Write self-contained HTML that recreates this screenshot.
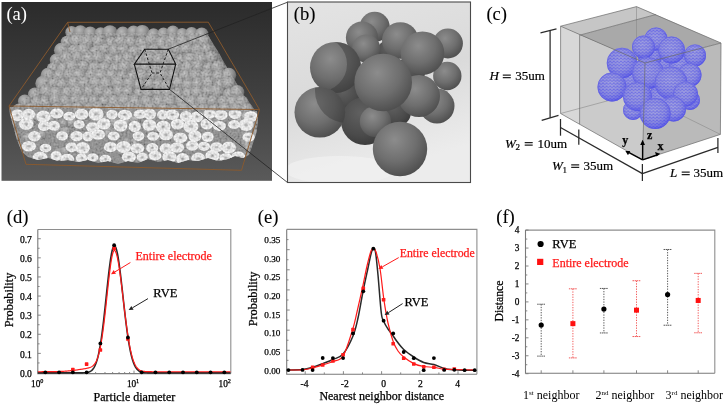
<!DOCTYPE html>
<html><head><meta charset="utf-8"><style>
html,body{margin:0;padding:0;background:#fff;width:725px;height:405px;overflow:hidden}
svg{display:block;filter:blur(0.3px)}
text{font-family:"Liberation Serif",serif;}
.t{stroke-width:0.22px;paint-order:stroke}
</style></head><body>
<svg width="725" height="405" viewBox="0 0 725 405">
<rect width="725" height="405" fill="#fff"/>
<defs><linearGradient id="ga" x1="0" y1="0" x2="0" y2="1"><stop offset="0" stop-color="#2b2b2b"/><stop offset="0.5" stop-color="#3f3f3f"/><stop offset="1" stop-color="#5a5a5a"/></linearGradient><radialGradient id="bump" cx="0.4" cy="0.34" r="0.7"><stop offset="0" stop-color="#b8b8b8"/><stop offset="0.45" stop-color="#989898"/><stop offset="0.8" stop-color="#767676"/><stop offset="1" stop-color="#525252"/></radialGradient><radialGradient id="ring" cx="0.5" cy="0.5" r="0.5"><stop offset="0" stop-color="#a0a0a0"/><stop offset="0.18" stop-color="#b8b8b8"/><stop offset="0.34" stop-color="#ededed"/><stop offset="0.9" stop-color="#fdfdfd"/><stop offset="1" stop-color="#e2e2e2"/></radialGradient><filter id="noise" x="0" y="0" width="1" height="1"><feTurbulence type="fractalNoise" baseFrequency="0.5" numOctaves="2" seed="3"/><feColorMatrix type="matrix" values="1.6 0 0 0 -0.3  1.6 0 0 0 -0.3  1.6 0 0 0 -0.3  0 0 0 0 1"/><feComposite in2="SourceGraphic" operator="in"/></filter><clipPath id="clipa"><rect x="1.5" y="2" width="270.5" height="178.8"/></clipPath><clipPath id="clipTop"><polygon points="70,33 90,33 110,33 130,33 150,33 170,33 190,33 205,33 209,37 214.6,46.1 219,53 223.7,61.7 228,69 232.8,77.2 237,84 241.9,92.8 246,98 250.9,104.4 254,109 256,112 14,108 23,101 34,91 42,80 50,67 57,55 64,40 68,32"/></clipPath><clipPath id="clipTop2"><rect x="0" y="0" width="272" height="111"/></clipPath><clipPath id="clipFront"><polygon points="9,107 257,111 258,122 256,134 252,146 249,155 243,158 235,156 228,159 218,161 208,158 198,161 188,160 178,163 168,160 158,162 148,159 138,163 128,161 118,164 108,161 98,163 88,160 78,162 68,160 58,161 48,158 38,160 28,157 22,152 17,140 13,125 10,115"/></clipPath></defs>
<rect x="1.5" y="2" width="270.5" height="178.8" fill="url(#ga)"/>
<g clip-path="url(#clipa)">
<polygon points="70,33 90,33 110,33 130,33 150,33 170,33 190,33 205,33 209,37 214.6,46.1 219,53 223.7,61.7 228,69 232.8,77.2 237,84 241.9,92.8 246,98 250.9,104.4 254,109 256,112 14,108 23,101 34,91 42,80 50,67 57,55 64,40 68,32" fill="#6e6e6e"/>
<g clip-path="url(#clipTop2)">
<circle cx="71.59" cy="32.22" r="6.27" fill="url(#bump)"/>
<circle cx="80.42" cy="32.17" r="6.96" fill="url(#bump)"/>
<circle cx="90.21" cy="33.3" r="6.91" fill="url(#bump)"/>
<circle cx="100.69" cy="33.27" r="6.13" fill="url(#bump)"/>
<circle cx="109.94" cy="32.67" r="7.49" fill="url(#bump)"/>
<circle cx="122.82" cy="33.73" r="7.13" fill="url(#bump)"/>
<circle cx="133.58" cy="32.14" r="6.71" fill="url(#bump)"/>
<circle cx="142.27" cy="32.43" r="7.55" fill="url(#bump)"/>
<circle cx="153.63" cy="34.45" r="6.21" fill="url(#bump)"/>
<circle cx="163.49" cy="33.92" r="6.33" fill="url(#bump)"/>
<circle cx="172.91" cy="32.19" r="6.67" fill="url(#bump)"/>
<circle cx="182.24" cy="34.04" r="6.11" fill="url(#bump)"/>
<circle cx="191.61" cy="33.76" r="6.77" fill="url(#bump)"/>
<circle cx="201.74" cy="34.38" r="6.82" fill="url(#bump)"/>
<circle cx="67.11" cy="42.08" r="6.44" fill="url(#bump)"/>
<circle cx="77.08" cy="41.36" r="7.58" fill="url(#bump)"/>
<circle cx="87.22" cy="41.75" r="7.76" fill="url(#bump)"/>
<circle cx="98.94" cy="41.97" r="7.36" fill="url(#bump)"/>
<circle cx="111.01" cy="42.79" r="6.07" fill="url(#bump)"/>
<circle cx="120.53" cy="41.44" r="7.03" fill="url(#bump)"/>
<circle cx="130.52" cy="42.24" r="7.25" fill="url(#bump)"/>
<circle cx="141.89" cy="43.33" r="6.82" fill="url(#bump)"/>
<circle cx="151.77" cy="40.68" r="6.85" fill="url(#bump)"/>
<circle cx="162.01" cy="43.48" r="7.26" fill="url(#bump)"/>
<circle cx="172.18" cy="41.66" r="7.48" fill="url(#bump)"/>
<circle cx="182.88" cy="41.89" r="7.2" fill="url(#bump)"/>
<circle cx="193.87" cy="40.68" r="6.3" fill="url(#bump)"/>
<circle cx="203.35" cy="41.24" r="7.38" fill="url(#bump)"/>
<circle cx="61.54" cy="50.35" r="7.57" fill="url(#bump)"/>
<circle cx="74.5" cy="51.46" r="6.99" fill="url(#bump)"/>
<circle cx="83.78" cy="50.25" r="7.56" fill="url(#bump)"/>
<circle cx="96.32" cy="51.87" r="6.65" fill="url(#bump)"/>
<circle cx="104.87" cy="49.7" r="6.27" fill="url(#bump)"/>
<circle cx="114.9" cy="50.77" r="6.42" fill="url(#bump)"/>
<circle cx="123.57" cy="50.26" r="6.47" fill="url(#bump)"/>
<circle cx="134.4" cy="51.86" r="6.66" fill="url(#bump)"/>
<circle cx="144.29" cy="50.85" r="7.24" fill="url(#bump)"/>
<circle cx="154.24" cy="51.7" r="7.22" fill="url(#bump)"/>
<circle cx="166.7" cy="51.39" r="7.4" fill="url(#bump)"/>
<circle cx="176.86" cy="49.31" r="6.71" fill="url(#bump)"/>
<circle cx="186.24" cy="49.2" r="7.14" fill="url(#bump)"/>
<circle cx="197.16" cy="50.02" r="6.38" fill="url(#bump)"/>
<circle cx="206.4" cy="49.45" r="6.09" fill="url(#bump)"/>
<circle cx="56.42" cy="60.12" r="6.65" fill="url(#bump)"/>
<circle cx="66.65" cy="58.26" r="7.11" fill="url(#bump)"/>
<circle cx="77.74" cy="57.87" r="6.63" fill="url(#bump)"/>
<circle cx="88.93" cy="58.9" r="7.53" fill="url(#bump)"/>
<circle cx="98.41" cy="57.81" r="6.87" fill="url(#bump)"/>
<circle cx="109.08" cy="59.99" r="6.62" fill="url(#bump)"/>
<circle cx="118.52" cy="60.35" r="6.29" fill="url(#bump)"/>
<circle cx="128.2" cy="59.13" r="6.95" fill="url(#bump)"/>
<circle cx="139.39" cy="60.44" r="6.05" fill="url(#bump)"/>
<circle cx="148.8" cy="58.28" r="7.55" fill="url(#bump)"/>
<circle cx="159.07" cy="59.82" r="6.66" fill="url(#bump)"/>
<circle cx="170.29" cy="58.49" r="6.96" fill="url(#bump)"/>
<circle cx="180.79" cy="60.45" r="6.4" fill="url(#bump)"/>
<circle cx="190.38" cy="59.95" r="7.53" fill="url(#bump)"/>
<circle cx="200.52" cy="59.05" r="7.33" fill="url(#bump)"/>
<circle cx="211.13" cy="57.58" r="6.64" fill="url(#bump)"/>
<circle cx="53.14" cy="68.87" r="6.47" fill="url(#bump)"/>
<circle cx="63.32" cy="68.96" r="6.81" fill="url(#bump)"/>
<circle cx="72.39" cy="66.66" r="7.72" fill="url(#bump)"/>
<circle cx="83.63" cy="66.61" r="6.41" fill="url(#bump)"/>
<circle cx="94.65" cy="68.52" r="7.12" fill="url(#bump)"/>
<circle cx="104.84" cy="68.4" r="6.86" fill="url(#bump)"/>
<circle cx="115.15" cy="68.73" r="6.15" fill="url(#bump)"/>
<circle cx="124.56" cy="67.43" r="7.41" fill="url(#bump)"/>
<circle cx="135.75" cy="67" r="6.32" fill="url(#bump)"/>
<circle cx="145.6" cy="67.19" r="7.44" fill="url(#bump)"/>
<circle cx="156.71" cy="68.17" r="6.72" fill="url(#bump)"/>
<circle cx="165.15" cy="66.45" r="6.31" fill="url(#bump)"/>
<circle cx="175.97" cy="66.44" r="7.63" fill="url(#bump)"/>
<circle cx="187.76" cy="67.97" r="7.49" fill="url(#bump)"/>
<circle cx="198.13" cy="66.39" r="6.63" fill="url(#bump)"/>
<circle cx="208.92" cy="67.95" r="6.03" fill="url(#bump)"/>
<circle cx="217.88" cy="67.3" r="6.95" fill="url(#bump)"/>
<circle cx="48.13" cy="75.26" r="7.49" fill="url(#bump)"/>
<circle cx="59.42" cy="76.26" r="6.53" fill="url(#bump)"/>
<circle cx="69.56" cy="74.89" r="6.47" fill="url(#bump)"/>
<circle cx="79.13" cy="75.87" r="7.64" fill="url(#bump)"/>
<circle cx="91.69" cy="75.76" r="7.05" fill="url(#bump)"/>
<circle cx="101.46" cy="76.1" r="7.65" fill="url(#bump)"/>
<circle cx="111.97" cy="75.82" r="6.94" fill="url(#bump)"/>
<circle cx="122.36" cy="76.9" r="6.33" fill="url(#bump)"/>
<circle cx="132.79" cy="76.68" r="6.31" fill="url(#bump)"/>
<circle cx="141.96" cy="76.06" r="7" fill="url(#bump)"/>
<circle cx="153.38" cy="74.82" r="7" fill="url(#bump)"/>
<circle cx="162.81" cy="75.33" r="7.01" fill="url(#bump)"/>
<circle cx="173.84" cy="76.19" r="7.39" fill="url(#bump)"/>
<circle cx="185.74" cy="75.83" r="7.37" fill="url(#bump)"/>
<circle cx="195.97" cy="76.04" r="7.1" fill="url(#bump)"/>
<circle cx="206.52" cy="76.1" r="7.25" fill="url(#bump)"/>
<circle cx="218.37" cy="76.6" r="6.86" fill="url(#bump)"/>
<circle cx="228.66" cy="75.28" r="7.58" fill="url(#bump)"/>
<circle cx="43.03" cy="83.41" r="7.7" fill="url(#bump)"/>
<circle cx="53.78" cy="83.22" r="6.22" fill="url(#bump)"/>
<circle cx="62.37" cy="85.01" r="6.43" fill="url(#bump)"/>
<circle cx="73.67" cy="83.46" r="7.41" fill="url(#bump)"/>
<circle cx="84.31" cy="83.43" r="7.29" fill="url(#bump)"/>
<circle cx="95.86" cy="83.66" r="7.59" fill="url(#bump)"/>
<circle cx="106.1" cy="84.46" r="7.71" fill="url(#bump)"/>
<circle cx="118.54" cy="83.48" r="7.78" fill="url(#bump)"/>
<circle cx="129.58" cy="84.02" r="6.78" fill="url(#bump)"/>
<circle cx="139.35" cy="85.17" r="6.35" fill="url(#bump)"/>
<circle cx="149.35" cy="84.32" r="6.04" fill="url(#bump)"/>
<circle cx="157.96" cy="84.87" r="6.03" fill="url(#bump)"/>
<circle cx="166.47" cy="85.96" r="6.92" fill="url(#bump)"/>
<circle cx="178.67" cy="83.31" r="7.42" fill="url(#bump)"/>
<circle cx="187.94" cy="85.34" r="6.48" fill="url(#bump)"/>
<circle cx="197.83" cy="84.27" r="6.49" fill="url(#bump)"/>
<circle cx="208.94" cy="83.78" r="7.64" fill="url(#bump)"/>
<circle cx="220.6" cy="84.71" r="6.27" fill="url(#bump)"/>
<circle cx="228.35" cy="83.17" r="7.26" fill="url(#bump)"/>
<circle cx="34.82" cy="94.32" r="6.77" fill="url(#bump)"/>
<circle cx="46.43" cy="91.75" r="7.14" fill="url(#bump)"/>
<circle cx="55.67" cy="94.09" r="7.54" fill="url(#bump)"/>
<circle cx="67.53" cy="93.16" r="6.82" fill="url(#bump)"/>
<circle cx="77.61" cy="91.89" r="7.67" fill="url(#bump)"/>
<circle cx="89.05" cy="91.83" r="6.95" fill="url(#bump)"/>
<circle cx="99.1" cy="92.11" r="6.29" fill="url(#bump)"/>
<circle cx="109.05" cy="93.78" r="6.56" fill="url(#bump)"/>
<circle cx="119.28" cy="92.03" r="6.52" fill="url(#bump)"/>
<circle cx="128.1" cy="92.25" r="6.62" fill="url(#bump)"/>
<circle cx="139.46" cy="93.15" r="6.03" fill="url(#bump)"/>
<circle cx="147.99" cy="94.3" r="6.34" fill="url(#bump)"/>
<circle cx="158.19" cy="92.8" r="6.19" fill="url(#bump)"/>
<circle cx="167.51" cy="92.68" r="6.89" fill="url(#bump)"/>
<circle cx="177.55" cy="94.45" r="6.91" fill="url(#bump)"/>
<circle cx="188.21" cy="93.62" r="6.62" fill="url(#bump)"/>
<circle cx="197.28" cy="92.54" r="7.14" fill="url(#bump)"/>
<circle cx="207.44" cy="91.71" r="6.1" fill="url(#bump)"/>
<circle cx="216.84" cy="91.99" r="7.33" fill="url(#bump)"/>
<circle cx="229.01" cy="94.11" r="6.15" fill="url(#bump)"/>
<circle cx="237.12" cy="92.23" r="7.21" fill="url(#bump)"/>
<circle cx="24.83" cy="101.34" r="6.83" fill="url(#bump)"/>
<circle cx="36.68" cy="102.92" r="6.47" fill="url(#bump)"/>
<circle cx="44.95" cy="102.9" r="6.98" fill="url(#bump)"/>
<circle cx="55.66" cy="100" r="6.56" fill="url(#bump)"/>
<circle cx="65.73" cy="101.51" r="6.69" fill="url(#bump)"/>
<circle cx="75.82" cy="100.01" r="6.36" fill="url(#bump)"/>
<circle cx="84.53" cy="101.2" r="6.48" fill="url(#bump)"/>
<circle cx="94.11" cy="100.91" r="6.08" fill="url(#bump)"/>
<circle cx="104.35" cy="101.59" r="6.42" fill="url(#bump)"/>
<circle cx="114.12" cy="102.15" r="7.35" fill="url(#bump)"/>
<circle cx="124.61" cy="100.98" r="7.58" fill="url(#bump)"/>
<circle cx="135.51" cy="102.17" r="7.77" fill="url(#bump)"/>
<circle cx="146.95" cy="102.51" r="7.16" fill="url(#bump)"/>
<circle cx="158.86" cy="102.2" r="7.61" fill="url(#bump)"/>
<circle cx="169.29" cy="101.57" r="7.46" fill="url(#bump)"/>
<circle cx="181.87" cy="102.41" r="6.91" fill="url(#bump)"/>
<circle cx="191.73" cy="102.68" r="7.49" fill="url(#bump)"/>
<circle cx="203.18" cy="100.69" r="7.23" fill="url(#bump)"/>
<circle cx="212.91" cy="101.08" r="6.06" fill="url(#bump)"/>
<circle cx="223.4" cy="101.68" r="6.19" fill="url(#bump)"/>
<circle cx="232.26" cy="102.04" r="7.13" fill="url(#bump)"/>
<circle cx="241.71" cy="102.39" r="6.88" fill="url(#bump)"/>
<circle cx="19.07" cy="110.48" r="6.91" fill="url(#bump)"/>
<circle cx="29.83" cy="109.26" r="6.12" fill="url(#bump)"/>
<circle cx="38.06" cy="110.69" r="6.13" fill="url(#bump)"/>
<circle cx="48.21" cy="111.43" r="6.37" fill="url(#bump)"/>
<circle cx="57.05" cy="109.94" r="6.89" fill="url(#bump)"/>
<circle cx="68.16" cy="110.35" r="7.23" fill="url(#bump)"/>
<circle cx="77.62" cy="108.94" r="7.16" fill="url(#bump)"/>
<circle cx="89.69" cy="109.41" r="6.46" fill="url(#bump)"/>
<circle cx="97.91" cy="108.68" r="7.02" fill="url(#bump)"/>
<circle cx="109.77" cy="110.58" r="6.48" fill="url(#bump)"/>
<circle cx="118.73" cy="110.05" r="7.22" fill="url(#bump)"/>
<circle cx="129.9" cy="108.86" r="6.84" fill="url(#bump)"/>
<circle cx="139.62" cy="111.43" r="7.61" fill="url(#bump)"/>
<circle cx="150.67" cy="109.88" r="7.69" fill="url(#bump)"/>
<circle cx="164.1" cy="109.85" r="7.48" fill="url(#bump)"/>
<circle cx="173.8" cy="111.34" r="6.48" fill="url(#bump)"/>
<circle cx="184.27" cy="108.93" r="6.38" fill="url(#bump)"/>
<circle cx="194.58" cy="108.9" r="6.94" fill="url(#bump)"/>
<circle cx="204.11" cy="111.16" r="7.48" fill="url(#bump)"/>
<circle cx="214.77" cy="111.19" r="7.27" fill="url(#bump)"/>
<circle cx="225.25" cy="108.51" r="6.88" fill="url(#bump)"/>
<circle cx="236.42" cy="109.41" r="6.89" fill="url(#bump)"/>
<circle cx="246.53" cy="109.45" r="6.25" fill="url(#bump)"/>
</g>
<polygon points="9,107 257,111 258,122 256,134 252,146 249,155 243,158 235,156 228,159 218,161 208,158 198,161 188,160 178,163 168,160 158,162 148,159 138,163 128,161 118,164 108,161 98,163 88,160 78,162 68,160 58,161 48,158 38,160 28,157 22,152 17,140 13,125 10,115" fill="#858585"/>
<g clip-path="url(#clipFront)">
<circle cx="218.38" cy="108.1" r="5.5" fill="url(#bump)"/>
<circle cx="218.1" cy="114.84" r="5.85" fill="url(#bump)"/>
<circle cx="186.83" cy="159.39" r="4.58" fill="url(#bump)"/>
<circle cx="102.31" cy="130.4" r="6" fill="url(#bump)"/>
<circle cx="156.12" cy="128.56" r="4.86" fill="url(#bump)"/>
<circle cx="78.24" cy="110.75" r="4.2" fill="url(#bump)"/>
<circle cx="217" cy="124.28" r="5.87" fill="url(#bump)"/>
<circle cx="71.83" cy="123.15" r="5.02" fill="url(#bump)"/>
<circle cx="57.08" cy="129.28" r="5.91" fill="url(#bump)"/>
<circle cx="229.3" cy="154.28" r="5.26" fill="url(#bump)"/>
<circle cx="236.53" cy="161.62" r="5.1" fill="url(#bump)"/>
<circle cx="188.45" cy="110.82" r="5.46" fill="url(#bump)"/>
<circle cx="121.81" cy="150.9" r="5.29" fill="url(#bump)"/>
<circle cx="80.98" cy="110.79" r="5.85" fill="url(#bump)"/>
<circle cx="41.57" cy="134.91" r="4.69" fill="url(#bump)"/>
<circle cx="83.85" cy="150.12" r="5.95" fill="url(#bump)"/>
<circle cx="74.52" cy="145.39" r="4.6" fill="url(#bump)"/>
<circle cx="148.22" cy="130.48" r="4.33" fill="url(#bump)"/>
<circle cx="50.09" cy="119.85" r="5.81" fill="url(#bump)"/>
<circle cx="133.27" cy="120.54" r="5.81" fill="url(#bump)"/>
<circle cx="257.13" cy="133.65" r="4.28" fill="url(#bump)"/>
<circle cx="57.72" cy="113.17" r="4.68" fill="url(#bump)"/>
<circle cx="32.59" cy="121.63" r="4.52" fill="url(#bump)"/>
<circle cx="151.27" cy="158.57" r="5.5" fill="url(#bump)"/>
<circle cx="112.37" cy="131.59" r="5.05" fill="url(#bump)"/>
<circle cx="103.46" cy="127.28" r="4.12" fill="url(#bump)"/>
<circle cx="78.82" cy="163.16" r="4.25" fill="url(#bump)"/>
<circle cx="134.84" cy="143.89" r="5.73" fill="url(#bump)"/>
<circle cx="63.56" cy="123.45" r="4.5" fill="url(#bump)"/>
<circle cx="109.14" cy="133.41" r="5.91" fill="url(#bump)"/>
<circle cx="220.47" cy="157.75" r="4.04" fill="url(#bump)"/>
<circle cx="18" cy="148.44" r="5.79" fill="url(#bump)"/>
<circle cx="127.37" cy="141.47" r="4" fill="url(#bump)"/>
<circle cx="107.1" cy="160.83" r="5.65" fill="url(#bump)"/>
<circle cx="222.15" cy="163.42" r="4.5" fill="url(#bump)"/>
<circle cx="37.04" cy="116.8" r="5.04" fill="url(#bump)"/>
<circle cx="179.15" cy="161.66" r="5.44" fill="url(#bump)"/>
<circle cx="170.54" cy="151.59" r="4.91" fill="url(#bump)"/>
<circle cx="146.77" cy="110.25" r="5.56" fill="url(#bump)"/>
<circle cx="67.68" cy="160.44" r="5.29" fill="url(#bump)"/>
<circle cx="85.34" cy="115.29" r="4.5" fill="url(#bump)"/>
<circle cx="167.8" cy="147.82" r="4.22" fill="url(#bump)"/>
<circle cx="27.45" cy="137.89" r="5.17" fill="url(#bump)"/>
<circle cx="106.24" cy="120.74" r="5.2" fill="url(#bump)"/>
<circle cx="12.59" cy="125.19" r="4.92" fill="url(#bump)"/>
<circle cx="247.82" cy="144.74" r="5.77" fill="url(#bump)"/>
<circle cx="127.88" cy="121.38" r="4.49" fill="url(#bump)"/>
<circle cx="248.23" cy="148.17" r="4.61" fill="url(#bump)"/>
<circle cx="15.4" cy="136.4" r="5.35" fill="url(#bump)"/>
<circle cx="114.16" cy="122.66" r="5.33" fill="url(#bump)"/>
<circle cx="239.44" cy="120.93" r="4.07" fill="url(#bump)"/>
<circle cx="93.84" cy="131.97" r="5.37" fill="url(#bump)"/>
<circle cx="59.12" cy="153.43" r="5.48" fill="url(#bump)"/>
<circle cx="135.21" cy="119.7" r="5.94" fill="url(#bump)"/>
<circle cx="87.31" cy="154.74" r="4.46" fill="url(#bump)"/>
<circle cx="64.92" cy="151.35" r="4.59" fill="url(#bump)"/>
<circle cx="246.08" cy="136.26" r="4.37" fill="url(#bump)"/>
<circle cx="65.38" cy="131.77" r="5.33" fill="url(#bump)"/>
<circle cx="245.29" cy="116.34" r="4.79" fill="url(#bump)"/>
<circle cx="62.81" cy="163.52" r="4.28" fill="url(#bump)"/>
<ellipse cx="17.38" cy="115.31" rx="6.72" ry="5.96" fill="url(#ring)"/>
<ellipse cx="28.7" cy="114.29" rx="6.62" ry="5.52" fill="url(#ring)"/>
<ellipse cx="43.51" cy="116.67" rx="7.22" ry="6.1" fill="url(#ring)"/>
<ellipse cx="56.78" cy="113.41" rx="6.83" ry="5.11" fill="url(#ring)"/>
<ellipse cx="69.29" cy="116.23" rx="6.08" ry="4.41" fill="url(#ring)"/>
<ellipse cx="81.59" cy="114.2" rx="6.88" ry="5.57" fill="url(#ring)"/>
<ellipse cx="96.04" cy="114.03" rx="7.59" ry="6.61" fill="url(#ring)"/>
<ellipse cx="112.02" cy="114.59" rx="5.74" ry="4.92" fill="url(#ring)"/>
<ellipse cx="124.94" cy="114.89" rx="7.29" ry="5.25" fill="url(#ring)"/>
<ellipse cx="140.12" cy="114.17" rx="6.39" ry="4.69" fill="url(#ring)"/>
<ellipse cx="149.87" cy="114.09" rx="6.27" ry="5.6" fill="url(#ring)"/>
<ellipse cx="162.73" cy="114.81" rx="5.72" ry="4.94" fill="url(#ring)"/>
<ellipse cx="172.17" cy="114.71" rx="7.06" ry="5.25" fill="url(#ring)"/>
<ellipse cx="185.98" cy="116.39" rx="6.14" ry="5.49" fill="url(#ring)"/>
<ellipse cx="196.95" cy="116.76" rx="6.39" ry="5.58" fill="url(#ring)"/>
<ellipse cx="209.57" cy="113.46" rx="6.12" ry="5.25" fill="url(#ring)"/>
<ellipse cx="221.03" cy="114.83" rx="6.77" ry="5.17" fill="url(#ring)"/>
<ellipse cx="235.04" cy="113.75" rx="6.57" ry="5.41" fill="url(#ring)"/>
<ellipse cx="250.8" cy="116.59" rx="7.24" ry="5.53" fill="url(#ring)"/>
<ellipse cx="26.26" cy="123.94" rx="7.36" ry="6.1" fill="url(#ring)"/>
<ellipse cx="44.08" cy="125.95" rx="6.08" ry="5.15" fill="url(#ring)"/>
<ellipse cx="53.97" cy="125.81" rx="5.95" ry="5.06" fill="url(#ring)"/>
<ellipse cx="79.11" cy="124.43" rx="5.63" ry="4.33" fill="url(#ring)"/>
<ellipse cx="92.66" cy="127.33" rx="6.74" ry="5.02" fill="url(#ring)"/>
<ellipse cx="103.88" cy="123.86" rx="6.98" ry="5.76" fill="url(#ring)"/>
<ellipse cx="120.53" cy="125.54" rx="7" ry="6.25" fill="url(#ring)"/>
<ellipse cx="134.68" cy="126.45" rx="6.24" ry="5.61" fill="url(#ring)"/>
<ellipse cx="149.27" cy="125.07" rx="7.07" ry="5.99" fill="url(#ring)"/>
<ellipse cx="163.34" cy="126.91" rx="7.4" ry="6.49" fill="url(#ring)"/>
<ellipse cx="177.55" cy="124.09" rx="6.85" ry="5.4" fill="url(#ring)"/>
<ellipse cx="190.82" cy="126.45" rx="7.59" ry="6.66" fill="url(#ring)"/>
<ellipse cx="207.01" cy="123.91" rx="6.48" ry="5.64" fill="url(#ring)"/>
<ellipse cx="219.42" cy="126.01" rx="6.56" ry="5" fill="url(#ring)"/>
<ellipse cx="234.08" cy="124.53" rx="6.11" ry="4.41" fill="url(#ring)"/>
<ellipse cx="246.14" cy="124.98" rx="7.41" ry="6.22" fill="url(#ring)"/>
<ellipse cx="34.54" cy="136.19" rx="6.37" ry="5.25" fill="url(#ring)"/>
<ellipse cx="62.15" cy="135.89" rx="5.94" ry="4.76" fill="url(#ring)"/>
<ellipse cx="76.71" cy="136.03" rx="6.59" ry="5.12" fill="url(#ring)"/>
<ellipse cx="87.94" cy="136.45" rx="5.66" ry="4.97" fill="url(#ring)"/>
<ellipse cx="98.14" cy="134.49" rx="7.18" ry="5.2" fill="url(#ring)"/>
<ellipse cx="113.67" cy="136.01" rx="6.07" ry="4.53" fill="url(#ring)"/>
<ellipse cx="138.47" cy="136.1" rx="6" ry="4.83" fill="url(#ring)"/>
<ellipse cx="153.11" cy="136.27" rx="5.96" ry="4.58" fill="url(#ring)"/>
<ellipse cx="166" cy="134.71" rx="7.11" ry="5.62" fill="url(#ring)"/>
<ellipse cx="180.29" cy="137.68" rx="7.04" ry="5.24" fill="url(#ring)"/>
<ellipse cx="194.87" cy="136.07" rx="6.74" ry="5.92" fill="url(#ring)"/>
<ellipse cx="207.72" cy="136.98" rx="6.01" ry="5.11" fill="url(#ring)"/>
<ellipse cx="248.52" cy="137.17" rx="6.3" ry="4.63" fill="url(#ring)"/>
<ellipse cx="28.9" cy="146.21" rx="7.22" ry="5.28" fill="url(#ring)"/>
<ellipse cx="45.52" cy="148.02" rx="5.88" ry="4.39" fill="url(#ring)"/>
<ellipse cx="71.54" cy="147.3" rx="6.04" ry="4.92" fill="url(#ring)"/>
<ellipse cx="82.68" cy="148.04" rx="7.29" ry="5.98" fill="url(#ring)"/>
<ellipse cx="110.56" cy="147.18" rx="6.75" ry="5.1" fill="url(#ring)"/>
<ellipse cx="123.66" cy="147.03" rx="7.54" ry="6.13" fill="url(#ring)"/>
<ellipse cx="137.3" cy="148.44" rx="6.98" ry="5.11" fill="url(#ring)"/>
<ellipse cx="152.24" cy="147.94" rx="6.14" ry="4.94" fill="url(#ring)"/>
<ellipse cx="166.09" cy="148.33" rx="6.55" ry="5.09" fill="url(#ring)"/>
<ellipse cx="177.04" cy="147.47" rx="7.16" ry="5.18" fill="url(#ring)"/>
<ellipse cx="192.24" cy="145.44" rx="6.31" ry="5.25" fill="url(#ring)"/>
<ellipse cx="203.99" cy="146.35" rx="6.1" ry="4.61" fill="url(#ring)"/>
<ellipse cx="216.59" cy="147.3" rx="6.66" ry="4.99" fill="url(#ring)"/>
<ellipse cx="228.7" cy="147.67" rx="7.3" ry="6.06" fill="url(#ring)"/>
<ellipse cx="40.09" cy="158.22" rx="7.6" ry="6.68" fill="url(#ring)"/>
<ellipse cx="56.06" cy="156.05" rx="5.79" ry="5.04" fill="url(#ring)"/>
<ellipse cx="67.18" cy="158.88" rx="6.97" ry="5.04" fill="url(#ring)"/>
<ellipse cx="81.61" cy="158.07" rx="5.83" ry="4.73" fill="url(#ring)"/>
<ellipse cx="92.72" cy="157.45" rx="5.74" ry="4.24" fill="url(#ring)"/>
<ellipse cx="105.34" cy="159.17" rx="5.89" ry="4.44" fill="url(#ring)"/>
<ellipse cx="128.87" cy="157.15" rx="7.13" ry="5.55" fill="url(#ring)"/>
<ellipse cx="142.2" cy="157.23" rx="5.63" ry="4.76" fill="url(#ring)"/>
<ellipse cx="155.17" cy="155.66" rx="6.41" ry="4.84" fill="url(#ring)"/>
<ellipse cx="169.3" cy="157.06" rx="7.2" ry="6.1" fill="url(#ring)"/>
<ellipse cx="182.65" cy="158.88" rx="6.61" ry="5.93" fill="url(#ring)"/>
<ellipse cx="198.32" cy="158.77" rx="7.16" ry="6.2" fill="url(#ring)"/>
<ellipse cx="212.41" cy="155.85" rx="7.13" ry="6.12" fill="url(#ring)"/>
<ellipse cx="225.86" cy="157.85" rx="6.54" ry="4.72" fill="url(#ring)"/>
<ellipse cx="238.27" cy="157.65" rx="7.49" ry="6.29" fill="url(#ring)"/>
</g>
<g filter="url(#noise)" opacity="0.26"><polygon points="70,33 90,33 110,33 130,33 150,33 170,33 190,33 205,33 209,37 214.6,46.1 219,53 223.7,61.7 228,69 232.8,77.2 237,84 241.9,92.8 246,98 250.9,104.4 254,109 256,112 14,108 23,101 34,91 42,80 50,67 57,55 64,40 68,32" fill="#888"/><polygon points="9,107 257,111 258,122 256,134 252,146 249,155 243,158 235,156 228,159 218,161 208,158 198,161 188,160 178,163 168,160 158,162 148,159 138,163 128,161 118,164 108,161 98,163 88,160 78,162 68,160 58,161 48,158 38,160 28,157 22,152 17,140 13,125 10,115" fill="#888"/></g>
<g fill="none" stroke="#8c5a2c" stroke-width="0.9">
<polyline points="67.6,22.3 208.3,22.2 259.5,109.6 9,106 67.6,22.3"/>
<polyline points="9,106 26,164.3 241.5,170.3 259.5,109.6"/>
<line x1="67.6" y1="22.3" x2="70" y2="32"/>
</g>
<g fill="none" stroke="#111" stroke-width="1.1">
<polygon points="144.7,49.2 168.3,49.2 175.7,64.1 134.3,64.1"/>
<polyline points="134.3,64.1 141,89.4 169.5,89.4 175.7,64.1"/>
</g>
<g fill="none" stroke="#111" stroke-width="0.9" stroke-dasharray="2.6,1.8">
<polyline points="144.7,49.2 152,73 141,89.4"/><polyline points="168.3,49.2 160,73 169.5,89.4"/><line x1="152" y1="73" x2="160" y2="73"/>
</g>
</g>
<text x="6.4" y="20.2" font-size="18.6" text-anchor="start" fill="#fff" >(a)</text>
<line x1="168.3" y1="49.2" x2="287.5" y2="2.2" stroke="#222" stroke-width="0.8"/>
<line x1="169.5" y1="89.4" x2="287.5" y2="182.5" stroke="#222" stroke-width="0.8"/>
<defs><linearGradient id="gb" x1="0" y1="0" x2="0.3" y2="1"><stop offset="0" stop-color="#e4e4e4"/><stop offset="0.55" stop-color="#dadada"/><stop offset="1" stop-color="#ececec"/></linearGradient><radialGradient id="sph" cx="0.4" cy="0.33" r="0.8"><stop offset="0" stop-color="#8c8c8c"/><stop offset="0.5" stop-color="#6e6e6e"/><stop offset="0.85" stop-color="#505050"/><stop offset="1" stop-color="#393939"/></radialGradient><radialGradient id="sphd" cx="0.4" cy="0.33" r="0.8"><stop offset="0" stop-color="#606060"/><stop offset="0.6" stop-color="#4a4a4a"/><stop offset="1" stop-color="#333"/></radialGradient><clipPath id="clipb"><rect x="287.5" y="2" width="183" height="180.5"/></clipPath></defs>
<rect x="287.5" y="2" width="183" height="180.5" fill="url(#gb)"/>
<g clip-path="url(#clipb)">
<ellipse cx="340" cy="170" rx="55" ry="14" fill="#f0f0f0" opacity="0.8"/>
<circle cx="346" cy="96" r="15" fill="url(#sphd)"/>
<circle cx="396" cy="112" r="15" fill="url(#sphd)"/>
<circle cx="410" cy="72" r="15" fill="url(#sphd)"/>
<circle cx="374.7" cy="26.8" r="15" fill="url(#sph)"/>
<circle cx="447.9" cy="43.5" r="15" fill="url(#sph)"/>
<circle cx="389" cy="52" r="12" fill="url(#sphd)"/>
<circle cx="400.3" cy="40.5" r="18.3" fill="url(#sph)"/>
<circle cx="362" cy="37.6" r="16.1" fill="url(#sph)"/>
<circle cx="365" cy="121" r="24" fill="url(#sphd)"/>
<circle cx="437" cy="106" r="17.5" fill="url(#sph)"/>
<circle cx="447.3" cy="76" r="14.2" fill="url(#sph)"/>
<circle cx="366.2" cy="48.5" r="14" fill="url(#sph)"/>
<circle cx="422.5" cy="53.2" r="21.8" fill="url(#sph)"/>
<circle cx="335.5" cy="67.4" r="25.5" fill="url(#sph)"/>
<clipPath id="cs1"><circle cx="335.5" cy="67.4" r="25.5"/></clipPath><g clip-path="url(#cs1)"><path fill-rule="evenodd" d="M305,38 H365 V97 H305 Z M292.4,64.2 a27.3,27.3 0 1,0 54.6,0 a27.3,27.3 0 1,0 -54.6,0 Z" fill="#333" opacity="0.42"/></g>
<circle cx="319.8" cy="112.3" r="25.3" fill="url(#sph)"/>
<clipPath id="cs2"><circle cx="319.8" cy="112.3" r="25.3"/></clipPath><g clip-path="url(#cs2)"><circle cx="347" cy="91" r="32" fill="#333" opacity="0.4"/></g>
<circle cx="375.4" cy="121.5" r="15.6" fill="url(#sph)"/>
<circle cx="419" cy="96" r="21" fill="url(#sph)"/>
<circle cx="383.2" cy="82.5" r="28.8" fill="url(#sph)"/>
<circle cx="400" cy="149" r="27.2" fill="url(#sph)"/>
</g>
<rect x="287.5" y="2" width="183" height="180.5" fill="none" stroke="#4a4a4a" stroke-width="1.1"/>
<text x="293.8" y="20.2" font-size="18.6" text-anchor="start" fill="#000" stroke="#000" stroke-width="0.1" >(b)</text>
<defs><radialGradient id="bs" cx="0.45" cy="0.4" r="0.6"><stop offset="0" stop-color="#b2b2de"/><stop offset="0.6" stop-color="#a0a0dc"/><stop offset="0.9" stop-color="#7c7ce0"/><stop offset="1" stop-color="#6060e4"/></radialGradient><pattern id="mesh" width="3.6" height="3.1" patternUnits="userSpaceOnUse"><path d="M0,0 L3.6,0 M0,0 L1.8,3.1 M3.6,0 L1.8,3.1 M0,3.1 L3.6,3.1" stroke="#3434ea" stroke-width="0.42" fill="none"/></pattern></defs>
<polygon points="560.6,26.2 579.6,35.2 579.6,124.2 560.6,113.5" fill="#d8d8d8"/>
<polygon points="560.6,26.2 636.5,6.6 655.8,14.5 579.6,35.2" fill="#c6c6c6"/>
<polygon points="579.6,35.2 645,63 642.6,159.8 579.6,124.2" fill="#cbcbcb"/>
<polygon points="645,63 721,43 720.4,134.4 642.6,159.8" fill="#bababa"/>
<polygon points="579.6,35.2 655.8,14.5 721,43 645,63" fill="#a9a9a9"/>
<g fill="none" stroke="#8a8a8a" stroke-width="0.6"><polyline points="560.6,113.5 636.5,93 720.4,134.4"/><line x1="636.5" y1="6.6" x2="636.5" y2="93"/></g>
<circle cx="663" cy="62" r="13" fill="url(#bs)"/>
<circle cx="663" cy="62" r="12.65" fill="url(#mesh)" opacity="0.85" stroke="#5656e4" stroke-width="0.7"/>
<circle cx="650" cy="56" r="12" fill="url(#bs)"/>
<circle cx="650" cy="56" r="11.65" fill="url(#mesh)" opacity="0.85" stroke="#5656e4" stroke-width="0.7"/>
<circle cx="632" cy="78" r="13" fill="url(#bs)"/>
<circle cx="632" cy="78" r="12.65" fill="url(#mesh)" opacity="0.85" stroke="#5656e4" stroke-width="0.7"/>
<circle cx="662" cy="96" r="13" fill="url(#bs)"/>
<circle cx="662" cy="96" r="12.65" fill="url(#mesh)" opacity="0.85" stroke="#5656e4" stroke-width="0.7"/>
<circle cx="680" cy="66" r="11" fill="url(#bs)"/>
<circle cx="680" cy="66" r="10.65" fill="url(#mesh)" opacity="0.85" stroke="#5656e4" stroke-width="0.7"/>
<circle cx="633" cy="110" r="10" fill="url(#bs)"/>
<circle cx="633" cy="110" r="9.65" fill="url(#mesh)" opacity="0.85" stroke="#5656e4" stroke-width="0.7"/>
<circle cx="690" cy="100" r="10" fill="url(#bs)"/>
<circle cx="690" cy="100" r="9.65" fill="url(#mesh)" opacity="0.85" stroke="#5656e4" stroke-width="0.7"/>
<circle cx="656" cy="39" r="11.5" fill="url(#bs)"/>
<circle cx="656" cy="39" r="11.15" fill="url(#mesh)" opacity="0.85" stroke="#5656e4" stroke-width="0.7"/>
<circle cx="643.5" cy="47" r="11.5" fill="url(#bs)"/>
<circle cx="643.5" cy="47" r="11.15" fill="url(#mesh)" opacity="0.85" stroke="#5656e4" stroke-width="0.7"/>
<circle cx="671.5" cy="50" r="13.5" fill="url(#bs)"/>
<circle cx="671.5" cy="50" r="13.15" fill="url(#mesh)" opacity="0.85" stroke="#5656e4" stroke-width="0.7"/>
<circle cx="695" cy="55.4" r="11" fill="url(#bs)"/>
<circle cx="695" cy="55.4" r="10.65" fill="url(#mesh)" opacity="0.85" stroke="#5656e4" stroke-width="0.7"/>
<circle cx="622" cy="63" r="15.2" fill="url(#bs)"/>
<circle cx="622" cy="63" r="14.85" fill="url(#mesh)" opacity="0.85" stroke="#5656e4" stroke-width="0.7"/>
<circle cx="612" cy="87" r="14.5" fill="url(#bs)"/>
<circle cx="612" cy="87" r="14.15" fill="url(#mesh)" opacity="0.85" stroke="#5656e4" stroke-width="0.7"/>
<circle cx="689.5" cy="75" r="12" fill="url(#bs)"/>
<circle cx="689.5" cy="75" r="11.65" fill="url(#mesh)" opacity="0.85" stroke="#5656e4" stroke-width="0.7"/>
<circle cx="648" cy="73" r="16" fill="url(#bs)"/>
<circle cx="648" cy="73" r="15.65" fill="url(#mesh)" opacity="0.85" stroke="#5656e4" stroke-width="0.7"/>
<circle cx="671" cy="83" r="16.5" fill="url(#bs)"/>
<circle cx="671" cy="83" r="16.15" fill="url(#mesh)" opacity="0.85" stroke="#5656e4" stroke-width="0.7"/>
<circle cx="685.5" cy="94" r="12.5" fill="url(#bs)"/>
<circle cx="685.5" cy="94" r="12.15" fill="url(#mesh)" opacity="0.85" stroke="#5656e4" stroke-width="0.7"/>
<circle cx="637.5" cy="96.5" r="14.5" fill="url(#bs)"/>
<circle cx="637.5" cy="96.5" r="14.15" fill="url(#mesh)" opacity="0.85" stroke="#5656e4" stroke-width="0.7"/>
<circle cx="673.5" cy="109" r="12.5" fill="url(#bs)"/>
<circle cx="673.5" cy="109" r="12.15" fill="url(#mesh)" opacity="0.85" stroke="#5656e4" stroke-width="0.7"/>
<circle cx="655.2" cy="113.5" r="15.5" fill="url(#bs)"/>
<circle cx="655.2" cy="113.5" r="15.15" fill="url(#mesh)" opacity="0.85" stroke="#5656e4" stroke-width="0.7"/>
<g fill="none" stroke="#6a6a6a" stroke-width="0.7">
<polyline points="560.6,113.5 560.6,26.2 636.5,6.6 721,43 720.4,134.4"/>
<polyline points="560.6,26.2 645,63 721,43"/>
<polyline points="579.6,35.2 655.8,14.5"/>
<polyline points="579.6,35.2 579.6,124.2"/>
<polyline points="645,63 642.6,159.8"/>
<polyline points="560.6,113.5 642.6,159.8 720.4,134.4"/>
</g>
<g stroke="#2a2a2a" stroke-width="1.25" fill="none">
<line x1="550.1" y1="30.8" x2="550.1" y2="117.8"/>
<line x1="540.5" y1="32.8" x2="556.5" y2="28.9"/><line x1="541.7" y1="120.4" x2="558.5" y2="115.4"/>
<line x1="560.5" y1="119" x2="560.5" y2="135.7"/><line x1="578.8" y1="129.5" x2="578.8" y2="144.8"/>
<line x1="560.5" y1="127.5" x2="642.4" y2="173.6"/>
<line x1="642.4" y1="164" x2="642.4" y2="181"/>
<line x1="642.4" y1="173.6" x2="717.9" y2="147.3"/>
<line x1="717.9" y1="138" x2="717.9" y2="153"/>
</g>
<g stroke="#000" stroke-width="1.4" fill="none"><line x1="642.6" y1="159.8" x2="642.6" y2="143"/><line x1="642.6" y1="159.8" x2="657" y2="155"/><line x1="642.6" y1="159.8" x2="628.5" y2="152.3"/></g>
<path d="M642.6,139.7 L640.2,145 L645,145Z M660.2,153.7 L655,152 L656.6,156.6Z M625.4,150.9 L630.2,151 L628,155.2Z" fill="#000"/>
<text x="647" y="138.9" font-size="12" text-anchor="start" fill="#000" stroke="#000" stroke-width="0.25" font-weight="bold">z</text>
<text x="622.3" y="144" font-size="12" text-anchor="start" fill="#000" stroke="#000" stroke-width="0.25" font-weight="bold">y</text>
<text x="657.6" y="150.1" font-size="12" text-anchor="start" fill="#000" stroke="#000" stroke-width="0.25" font-weight="bold">x</text>
<text x="486.4" y="20.2" font-size="18.6" text-anchor="start" fill="#000" stroke="#000" stroke-width="0.1" >(c)</text>
<text y="80.2" font-size="13" stroke="#000" stroke-width="0.2"><tspan x="489.6" font-style="italic">H</tspan><tspan x="515.3" y="80.2">35um</tspan></text>
<path d="M502.8,75.1 h8 M502.8,77.6 h8" stroke="#222" stroke-width="1.2"/>
<text y="147.7" font-size="13" stroke="#000" stroke-width="0.2"><tspan x="505" font-style="italic">W</tspan><tspan x="515.4" dy="2.6" font-size="9">2</tspan><tspan x="537.5" y="147.7">10um</tspan></text>
<path d="M524.7,142.6 h8 M524.7,145.1 h8" stroke="#222" stroke-width="1.2"/>
<text y="169.9" font-size="13" stroke="#000" stroke-width="0.2"><tspan x="551.9" font-style="italic">W</tspan><tspan x="562.4" dy="2.6" font-size="9">1</tspan><tspan x="583.5" y="169.9">35um</tspan></text>
<path d="M571.2,164.8 h8 M571.2,167.3 h8" stroke="#222" stroke-width="1.2"/>
<text y="177.3" font-size="13" stroke="#000" stroke-width="0.2"><tspan x="670" font-style="italic">L</tspan><tspan x="693.5" y="177.3">35um</tspan></text>
<path d="M681.7,172.2 h8 M681.7,174.7 h8" stroke="#222" stroke-width="1.2"/>
<text x="6.8" y="222.9" font-size="18.6" text-anchor="start" fill="#000" stroke="#000" stroke-width="0.1" >(d)</text>
<text x="257.8" y="223.1" font-size="18.6" text-anchor="start" fill="#000" stroke="#000" stroke-width="0.1" >(e)</text>
<text x="496.2" y="222.8" font-size="18.6" text-anchor="start" fill="#000" stroke="#000" stroke-width="0.1" >(f)</text>
<path d="M37.8,229.5 H230.8 V373.6" fill="none" stroke="#8e8e8e" stroke-width="1.1"/>
<path d="M37.8,229.5 V373.6 H230.8" fill="none" stroke="#7a7a7a" stroke-width="1.1"/>
<text x="31.9" y="376.7" font-size="9.6" text-anchor="end" fill="#000" stroke="#000" stroke-width="0.25" >0.0</text>
<text x="31.9" y="357.59" font-size="9.6" text-anchor="end" fill="#000" stroke="#000" stroke-width="0.25" >0.1</text>
<text x="31.9" y="338.48" font-size="9.6" text-anchor="end" fill="#000" stroke="#000" stroke-width="0.25" >0.2</text>
<text x="31.9" y="319.37" font-size="9.6" text-anchor="end" fill="#000" stroke="#000" stroke-width="0.25" >0.3</text>
<text x="31.9" y="300.26" font-size="9.6" text-anchor="end" fill="#000" stroke="#000" stroke-width="0.25" >0.4</text>
<text x="31.9" y="281.15" font-size="9.6" text-anchor="end" fill="#000" stroke="#000" stroke-width="0.25" >0.5</text>
<text x="31.9" y="262.04" font-size="9.6" text-anchor="end" fill="#000" stroke="#000" stroke-width="0.25" >0.6</text>
<text x="31.9" y="242.93" font-size="9.6" text-anchor="end" fill="#000" stroke="#000" stroke-width="0.25" >0.7</text>
<g stroke="#7a7a7a" stroke-width="0.9"><line x1="37.8" y1="372.5" x2="40.8" y2="372.5"/><line x1="37.8" y1="362.94" x2="39.599999999999994" y2="362.94"/><line x1="37.8" y1="353.39" x2="40.8" y2="353.39"/><line x1="37.8" y1="343.83" x2="39.599999999999994" y2="343.83"/><line x1="37.8" y1="334.28" x2="40.8" y2="334.28"/><line x1="37.8" y1="324.73" x2="39.599999999999994" y2="324.73"/><line x1="37.8" y1="315.17" x2="40.8" y2="315.17"/><line x1="37.8" y1="305.62" x2="39.599999999999994" y2="305.62"/><line x1="37.8" y1="296.06" x2="40.8" y2="296.06"/><line x1="37.8" y1="286.5" x2="39.599999999999994" y2="286.5"/><line x1="37.8" y1="276.95" x2="40.8" y2="276.95"/><line x1="37.8" y1="267.39" x2="39.599999999999994" y2="267.39"/><line x1="37.8" y1="257.84" x2="40.8" y2="257.84"/><line x1="37.8" y1="248.28" x2="39.599999999999994" y2="248.28"/><line x1="37.8" y1="238.73" x2="40.8" y2="238.73"/><line x1="37.6" y1="373.6" x2="37.6" y2="370.6"/><line x1="66.62" y1="373.6" x2="66.62" y2="372"/><line x1="83.59" y1="373.6" x2="83.59" y2="372"/><line x1="95.64" y1="373.6" x2="95.64" y2="372"/><line x1="104.98" y1="373.6" x2="104.98" y2="372"/><line x1="112.61" y1="373.6" x2="112.61" y2="372"/><line x1="119.07" y1="373.6" x2="119.07" y2="372"/><line x1="124.66" y1="373.6" x2="124.66" y2="372"/><line x1="129.59" y1="373.6" x2="129.59" y2="372"/><line x1="134" y1="373.6" x2="134" y2="370.6"/><line x1="163.02" y1="373.6" x2="163.02" y2="372"/><line x1="179.99" y1="373.6" x2="179.99" y2="372"/><line x1="192.04" y1="373.6" x2="192.04" y2="372"/><line x1="201.38" y1="373.6" x2="201.38" y2="372"/><line x1="209.01" y1="373.6" x2="209.01" y2="372"/><line x1="215.47" y1="373.6" x2="215.47" y2="372"/><line x1="221.06" y1="373.6" x2="221.06" y2="372"/><line x1="225.99" y1="373.6" x2="225.99" y2="372"/></g>
<text x="31" y="386.9" font-size="9.3" text-anchor="start" fill="#000" stroke="#000" stroke-width="0.25" >10</text>
<text x="40.2" y="383.2" font-size="6.2" text-anchor="start" fill="#000" stroke="#000" stroke-width="0.25" >0</text>
<text x="126.9" y="386.9" font-size="9.3" text-anchor="start" fill="#000" stroke="#000" stroke-width="0.25" >10</text>
<text x="136.1" y="383.2" font-size="6.2" text-anchor="start" fill="#000" stroke="#000" stroke-width="0.25" >1</text>
<text x="218.5" y="386.9" font-size="9.3" text-anchor="start" fill="#000" stroke="#000" stroke-width="0.25" >10</text>
<text x="227.7" y="383.2" font-size="6.2" text-anchor="start" fill="#000" stroke="#000" stroke-width="0.25" >2</text>
<text x="134.4" y="401" font-size="12" text-anchor="middle" fill="#000" stroke="#000" stroke-width="0.25" >Particle diameter</text>
<text x="0" y="0" font-size="12.3" text-anchor="middle" fill="#000" stroke="#000" stroke-width="0.25" transform="translate(13.2,300) rotate(-90)">Probability</text>
<path d="M38,372.9 L38.5,372.9 L39,372.9 L39.5,372.9 L40,372.9 L40.5,372.9 L41,372.9 L41.5,372.9 L42,372.9 L42.5,372.9 L43,372.9 L43.5,372.9 L44,372.9 L44.5,372.9 L45,372.9 L45.5,372.9 L46,372.9 L46.5,372.9 L47,372.9 L47.5,372.9 L48,372.9 L48.5,372.9 L49,372.9 L49.5,372.9 L50,372.9 L50.5,372.9 L51,372.9 L51.5,372.9 L52,372.9 L52.5,372.9 L53,372.9 L53.5,372.9 L54,372.9 L54.5,372.9 L55,372.9 L55.5,372.9 L56,372.9 L56.5,372.9 L57,372.9 L57.5,372.9 L58,372.9 L58.5,372.9 L59,372.9 L59.5,372.9 L60,372.9 L60.5,372.9 L61,372.9 L61.5,372.9 L62,372.9 L62.5,372.9 L63,372.9 L63.5,372.9 L64,372.9 L64.5,372.9 L65,372.9 L65.5,372.9 L66,372.9 L66.5,372.9 L67,372.9 L67.5,372.9 L68,372.9 L68.5,372.9 L69,372.9 L69.5,372.9 L70,372.9 L70.5,372.9 L71,372.9 L71.5,372.9 L72,372.9 L72.5,372.9 L73,372.9 L73.5,372.9 L74,372.9 L74.5,372.9 L75,372.9 L75.5,372.9 L76,372.9 L76.5,372.9 L77,372.9 L77.5,372.9 L78,372.89 L78.5,372.89 L79,372.89 L79.5,372.89 L80,372.88 L80.5,372.88 L81,372.87 L81.5,372.87 L82,372.86 L82.5,372.85 L83,372.83 L83.5,372.81 L84,372.79 L84.5,372.76 L85,372.72 L85.5,372.68 L86,372.63 L86.5,372.56 L87,372.48 L87.5,372.39 L88,372.27 L88.5,372.13 L89,371.97 L89.5,371.77 L90,371.54 L90.5,371.26 L91,370.94 L91.5,370.56 L92,370.12 L92.5,369.61 L93,369.02 L93.5,368.35 L94,367.57 L94.5,366.69 L95,365.68 L95.5,364.55 L96,363.27 L96.5,361.84 L97,360.25 L97.5,358.49 L98,356.54 L98.5,354.39 L99,352.05 L99.5,349.5 L100,346.73 L100.5,343.75 L101,340.56 L101.5,337.15 L102,333.53 L102.5,329.71 L103,325.7 L103.5,321.51 L104,317.17 L104.5,312.69 L105,308.09 L105.5,303.41 L106,298.67 L106.5,293.92 L107,289.18 L107.5,284.49 L108,279.89 L108.5,275.43 L109,271.14 L109.5,267.07 L110,263.25 L110.5,259.73 L111,256.53 L111.5,253.71 L112,251.28 L112.5,249.27 L113,247.7 L113.5,246.6 L114,245.97 L114.5,245.83 L115,246.13 L115.5,246.88 L116,248.05 L116.5,249.64 L117,251.63 L117.5,254 L118,256.72 L118.5,259.77 L119,263.13 L119.5,266.75 L120,270.61 L120.5,274.67 L121,278.89 L121.5,283.24 L122,287.69 L122.5,292.2 L123,296.73 L123.5,301.25 L124,305.74 L124.5,310.17 L125,314.5 L125.5,318.73 L126,322.82 L126.5,326.76 L127,330.54 L127.5,334.15 L128,337.57 L128.5,340.8 L129,343.83 L129.5,346.67 L130,349.31 L130.5,351.76 L131,354.02 L131.5,356.1 L132,358 L132.5,359.73 L133,361.3 L133.5,362.72 L134,364 L134.5,365.14 L135,366.16 L135.5,367.07 L136,367.87 L136.5,368.57 L137,369.19 L137.5,369.74 L138,370.21 L138.5,370.62 L139,370.97 L139.5,371.28 L140,371.54 L140.5,371.76 L141,371.95 L141.5,372.11 L142,372.25 L142.5,372.36 L143,372.46 L143.5,372.54 L144,372.6 L144.5,372.66 L145,372.71 L145.5,372.74 L146,372.77 L146.5,372.8 L147,372.82 L147.5,372.84 L148,372.85 L148.5,372.86 L149,372.87 L149.5,372.87 L150,372.88 L150.5,372.88 L151,372.89 L151.5,372.89 L152,372.89 L152.5,372.89 L153,372.9 L153.5,372.9 L154,372.9 L154.5,372.9 L155,372.9 L155.5,372.9 L156,372.9 L156.5,372.9 L157,372.9 L157.5,372.9 L158,372.9 L158.5,372.9 L159,372.9 L159.5,372.9 L160,372.9 L160.5,372.9 L161,372.9 L161.5,372.9 L162,372.9 L162.5,372.9 L163,372.9 L163.5,372.9 L164,372.9 L164.5,372.9 L165,372.9 L165.5,372.9 L166,372.9 L166.5,372.9 L167,372.9 L167.5,372.9 L168,372.9 L168.5,372.9 L169,372.9 L169.5,372.9 L170,372.9 L170.5,372.9 L171,372.9 L171.5,372.9 L172,372.9 L172.5,372.9 L173,372.9 L173.5,372.9 L174,372.9 L174.5,372.9 L175,372.9 L175.5,372.9 L176,372.9 L176.5,372.9 L177,372.9 L177.5,372.9 L178,372.9 L178.5,372.9 L179,372.9 L179.5,372.9 L180,372.9 L180.5,372.9 L181,372.9 L181.5,372.9 L182,372.9 L182.5,372.9 L183,372.9 L183.5,372.9 L184,372.9 L184.5,372.9 L185,372.9 L185.5,372.9 L186,372.9 L186.5,372.9 L187,372.9 L187.5,372.9 L188,372.9 L188.5,372.9 L189,372.9 L189.5,372.9 L190,372.9 L190.5,372.9 L191,372.9 L191.5,372.9 L192,372.9 L192.5,372.9 L193,372.9 L193.5,372.9 L194,372.9 L194.5,372.9 L195,372.9 L195.5,372.9 L196,372.9 L196.5,372.9 L197,372.9 L197.5,372.9 L198,372.9 L198.5,372.9 L199,372.9 L199.5,372.9 L200,372.9 L200.5,372.9 L201,372.9 L201.5,372.9 L202,372.9 L202.5,372.9 L203,372.9 L203.5,372.9 L204,372.9 L204.5,372.9 L205,372.9 L205.5,372.9 L206,372.9 L206.5,372.9 L207,372.9 L207.5,372.9 L208,372.9 L208.5,372.9 L209,372.9 L209.5,372.9 L210,372.9 L210.5,372.9 L211,372.9 L211.5,372.9 L212,372.9 L212.5,372.9 L213,372.9 L213.5,372.9 L214,372.9 L214.5,372.9 L215,372.9 L215.5,372.9 L216,372.9 L216.5,372.9 L217,372.9 L217.5,372.9 L218,372.9 L218.5,372.9 L219,372.9 L219.5,372.9 L220,372.9 L220.5,372.9 L221,372.9 L221.5,372.9 L222,372.9 L222.5,372.9 L223,372.9 L223.5,372.9 L224,372.9 L224.5,372.9 L225,372.9 L225.5,372.9 L226,372.9 L226.5,372.9 L227,372.9 L227.5,372.9 L228,372.9 L228.5,372.9 L229,372.9 L229.5,372.9 L230,372.9 L230.5,372.9" fill="none" stroke="#2a2a2a" stroke-width="1.6"/>
<path d="M38,371.73 L38.5,371.73 L39,371.73 L39.5,371.73 L40,371.73 L40.5,371.73 L41,371.73 L41.5,371.73 L42,371.72 L42.5,371.72 L43,371.72 L43.5,371.72 L44,371.72 L44.5,371.72 L45,371.72 L45.5,371.71 L46,371.71 L46.5,371.71 L47,371.71 L47.5,371.7 L48,371.7 L48.5,371.7 L49,371.69 L49.5,371.69 L50,371.68 L50.5,371.68 L51,371.67 L51.5,371.67 L52,371.66 L52.5,371.65 L53,371.64 L53.5,371.64 L54,371.63 L54.5,371.62 L55,371.61 L55.5,371.6 L56,371.59 L56.5,371.57 L57,371.56 L57.5,371.55 L58,371.53 L58.5,371.51 L59,371.5 L59.5,371.48 L60,371.46 L60.5,371.44 L61,371.42 L61.5,371.39 L62,371.37 L62.5,371.34 L63,371.32 L63.5,371.29 L64,371.26 L64.5,371.23 L65,371.19 L65.5,371.16 L66,371.12 L66.5,371.08 L67,371.04 L67.5,371 L68,370.96 L68.5,370.91 L69,370.87 L69.5,370.82 L70,370.77 L70.5,370.72 L71,370.66 L71.5,370.61 L72,370.55 L72.5,370.49 L73,370.43 L73.5,370.37 L74,370.31 L74.5,370.24 L75,370.18 L75.5,370.11 L76,370.04 L76.5,369.97 L77,369.9 L77.5,369.83 L78,369.75 L78.5,369.68 L79,369.6 L79.5,369.53 L80,369.45 L80.5,369.37 L81,369.29 L81.5,369.22 L82,369.14 L82.5,369.06 L83,368.98 L83.5,368.9 L84,368.81 L84.5,368.73 L85,368.65 L85.5,368.56 L86,368.47 L86.5,368.37 L87,368.27 L87.5,368.16 L88,368.05 L88.5,367.92 L89,367.78 L89.5,367.63 L90,367.45 L90.5,367.26 L91,367.03 L91.5,366.77 L92,366.48 L92.5,366.14 L93,365.74 L93.5,365.29 L94,364.76 L94.5,364.15 L95,363.46 L95.5,362.66 L96,361.75 L96.5,360.72 L97,359.55 L97.5,358.22 L98,356.74 L98.5,355.07 L99,353.22 L99.5,351.18 L100,348.92 L100.5,346.45 L101,343.76 L101.5,340.84 L102,337.69 L102.5,334.32 L103,330.73 L103.5,326.93 L104,322.93 L104.5,318.75 L105,314.41 L105.5,309.93 L106,305.35 L106.5,300.69 L107,295.99 L107.5,291.3 L108,286.65 L108.5,282.09 L109,277.66 L109.5,273.42 L110,269.4 L110.5,265.66 L111,262.24 L111.5,259.17 L112,256.5 L112.5,254.26 L113,252.48 L113.5,251.18 L114,250.39 L114.5,250.36 L115,250.77 L115.5,251.54 L116,252.67 L116.5,254.16 L117,255.99 L117.5,258.16 L118,260.65 L118.5,263.44 L119,266.5 L119.5,269.82 L120,273.35 L120.5,277.07 L121,280.96 L121.5,284.98 L122,289.09 L122.5,293.28 L123,297.5 L123.5,301.72 L124,305.93 L124.5,310.1 L125,314.19 L125.5,318.19 L126,322.09 L126.5,325.85 L127,329.47 L127.5,332.94 L128,336.24 L128.5,339.37 L129,342.32 L129.5,345.1 L130,347.69 L130.5,350.11 L131,352.34 L131.5,354.41 L132,356.31 L132.5,358.04 L133,359.62 L133.5,361.06 L134,362.35 L134.5,363.52 L135,364.57 L135.5,365.5 L136,366.33 L136.5,367.07 L137,367.72 L137.5,368.29 L138,368.79 L138.5,369.22 L139,369.6 L139.5,369.93 L140,370.21 L140.5,370.45 L141,370.66 L141.5,370.84 L142,370.99 L142.5,371.12 L143,371.22 L143.5,371.31 L144,371.39 L144.5,371.45 L145,371.5 L145.5,371.55 L146,371.58 L146.5,371.61 L147,371.64 L147.5,371.66 L148,371.67 L148.5,371.69 L149,371.7 L149.5,371.7 L150,371.71 L150.5,371.72 L151,371.72 L151.5,371.72 L152,371.73 L152.5,371.73 L153,371.73 L153.5,371.73 L154,371.73 L154.5,371.73 L155,371.73 L155.5,371.73 L156,371.73 L156.5,371.73 L157,371.73 L157.5,371.74 L158,371.74 L158.5,371.74 L159,371.74 L159.5,371.74 L160,371.74 L160.5,371.74 L161,371.74 L161.5,371.74 L162,371.74 L162.5,371.74 L163,371.74 L163.5,371.74 L164,371.74 L164.5,371.74 L165,371.74 L165.5,371.74 L166,371.74 L166.5,371.74 L167,371.74 L167.5,371.74 L168,371.74 L168.5,371.74 L169,371.74 L169.5,371.74 L170,371.74 L170.5,371.74 L171,371.74 L171.5,371.74 L172,371.74 L172.5,371.74 L173,371.74 L173.5,371.74 L174,371.74 L174.5,371.74 L175,371.74 L175.5,371.74 L176,371.74 L176.5,371.74 L177,371.74 L177.5,371.74 L178,371.74 L178.5,371.74 L179,371.74 L179.5,371.74 L180,371.74 L180.5,371.74 L181,371.74 L181.5,371.74 L182,371.74 L182.5,371.74 L183,371.74 L183.5,371.74 L184,371.74 L184.5,371.74 L185,371.74 L185.5,371.74 L186,371.74 L186.5,371.74 L187,371.74 L187.5,371.74 L188,371.74 L188.5,371.74 L189,371.74 L189.5,371.74 L190,371.74 L190.5,371.74 L191,371.74 L191.5,371.74 L192,371.74 L192.5,371.74 L193,371.74 L193.5,371.74 L194,371.74 L194.5,371.74 L195,371.74 L195.5,371.74 L196,371.74 L196.5,371.74 L197,371.74 L197.5,371.74 L198,371.74 L198.5,371.74 L199,371.74 L199.5,371.74 L200,371.74 L200.5,371.74 L201,371.74 L201.5,371.74 L202,371.74 L202.5,371.74 L203,371.74 L203.5,371.74 L204,371.74 L204.5,371.74 L205,371.74 L205.5,371.74 L206,371.74 L206.5,371.74 L207,371.74 L207.5,371.74 L208,371.74 L208.5,371.74 L209,371.74 L209.5,371.74 L210,371.74 L210.5,371.74 L211,371.74 L211.5,371.74 L212,371.74 L212.5,371.74 L213,371.74 L213.5,371.74 L214,371.74 L214.5,371.74 L215,371.74 L215.5,371.74 L216,371.74 L216.5,371.74 L217,371.74 L217.5,371.74 L218,371.74 L218.5,371.74 L219,371.74 L219.5,371.74 L220,371.74 L220.5,371.74 L221,371.74 L221.5,371.74 L222,371.74 L222.5,371.74 L223,371.74 L223.5,371.74 L224,371.74 L224.5,371.74 L225,371.74 L225.5,371.74 L226,371.74 L226.5,371.74 L227,371.74 L227.5,371.74 L228,371.74 L228.5,371.74 L229,371.74 L229.5,371.74 L230,371.74 L230.5,371.74" fill="none" stroke="#ff1a1a" stroke-width="1.2"/>
<rect x="71.04" y="367.83" width="3.6" height="3.6" rx="0.6" fill="#ff1a1a"/>
<rect x="84.81" y="362.29" width="3.6" height="3.6" rx="0.6" fill="#ff1a1a"/>
<rect x="98.58" y="348.15" width="3.6" height="3.6" rx="0.6" fill="#ff1a1a"/>
<rect x="112.35" y="246.48" width="3.6" height="3.6" rx="0.6" fill="#ff1a1a"/>
<rect x="126.12" y="337.26" width="3.6" height="3.6" rx="0.6" fill="#ff1a1a"/>
<circle cx="45.3" cy="372.3" r="1.9" fill="#000"/>
<circle cx="59.07" cy="372.3" r="1.9" fill="#000"/>
<circle cx="72.84" cy="372.3" r="1.9" fill="#000"/>
<circle cx="86.61" cy="372.3" r="1.9" fill="#000"/>
<circle cx="100.38" cy="343.44" r="1.9" fill="#000"/>
<circle cx="114.15" cy="245.22" r="1.9" fill="#000"/>
<circle cx="127.92" cy="337.52" r="1.9" fill="#000"/>
<circle cx="141.69" cy="372.3" r="1.9" fill="#000"/>
<circle cx="155.46" cy="372.3" r="1.9" fill="#000"/>
<circle cx="169.23" cy="372.3" r="1.9" fill="#000"/>
<circle cx="183" cy="372.3" r="1.9" fill="#000"/>
<circle cx="196.77" cy="372.3" r="1.9" fill="#000"/>
<circle cx="210.54" cy="372.3" r="1.9" fill="#000"/>
<circle cx="224.31" cy="372.3" r="1.9" fill="#000"/>
<line x1="130.4" y1="262.5" x2="114.84" y2="271.96" stroke="#ff1a1a" stroke-width="1"/>
<path d="M111,274.3 L113.7,270.08 L115.99,273.84 Z" fill="#ff1a1a"/>
<line x1="148" y1="298.6" x2="132.47" y2="307.81" stroke="#222" stroke-width="1"/>
<path d="M128.6,310.1 L131.35,305.91 L133.59,309.7 Z" fill="#222"/>
<text x="135.5" y="260.3" font-size="12" text-anchor="start" fill="#ff1a1a" stroke="#ff1a1a" stroke-width="0.25" >Entire electrode</text>
<text x="153.3" y="296.7" font-size="12.5" text-anchor="start" fill="#000" stroke="#000" stroke-width="0.25" >RVE</text>
<path d="M286.7,229.4 H476.9 V374.2" fill="none" stroke="#8e8e8e" stroke-width="1.1"/>
<path d="M286.7,229.4 V374.2 H476.9" fill="none" stroke="#7a7a7a" stroke-width="1.1"/>
<g stroke="#7a7a7a" stroke-width="0.9"><line x1="286.7" y1="370.4" x2="289.7" y2="370.4"/><line x1="286.7" y1="360.34" x2="288.5" y2="360.34"/><line x1="286.7" y1="350.28" x2="289.7" y2="350.28"/><line x1="286.7" y1="340.22" x2="288.5" y2="340.22"/><line x1="286.7" y1="330.16" x2="289.7" y2="330.16"/><line x1="286.7" y1="320.1" x2="288.5" y2="320.1"/><line x1="286.7" y1="310.04" x2="289.7" y2="310.04"/><line x1="286.7" y1="299.98" x2="288.5" y2="299.98"/><line x1="286.7" y1="289.92" x2="289.7" y2="289.92"/><line x1="286.7" y1="279.86" x2="288.5" y2="279.86"/><line x1="286.7" y1="269.8" x2="289.7" y2="269.8"/><line x1="286.7" y1="259.74" x2="288.5" y2="259.74"/><line x1="286.7" y1="249.68" x2="289.7" y2="249.68"/><line x1="286.7" y1="239.62" x2="288.5" y2="239.62"/><line x1="305.2" y1="374.2" x2="305.2" y2="371.2"/><line x1="324.3" y1="374.2" x2="324.3" y2="372.4"/><line x1="343.4" y1="374.2" x2="343.4" y2="371.2"/><line x1="362.5" y1="374.2" x2="362.5" y2="372.4"/><line x1="381.6" y1="374.2" x2="381.6" y2="371.2"/><line x1="400.7" y1="374.2" x2="400.7" y2="372.4"/><line x1="419.8" y1="374.2" x2="419.8" y2="371.2"/><line x1="438.9" y1="374.2" x2="438.9" y2="372.4"/><line x1="458" y1="374.2" x2="458" y2="371.2"/></g>
<text x="280.4" y="373.8" font-size="9.2" text-anchor="end" fill="#000" stroke="#000" stroke-width="0.25" >0.00</text>
<text x="280.4" y="355.13" font-size="9.2" text-anchor="end" fill="#000" stroke="#000" stroke-width="0.25" >0.05</text>
<text x="280.4" y="336.46" font-size="9.2" text-anchor="end" fill="#000" stroke="#000" stroke-width="0.25" >0.10</text>
<text x="280.4" y="317.79" font-size="9.2" text-anchor="end" fill="#000" stroke="#000" stroke-width="0.25" >0.15</text>
<text x="280.4" y="299.12" font-size="9.2" text-anchor="end" fill="#000" stroke="#000" stroke-width="0.25" >0.20</text>
<text x="280.4" y="280.45" font-size="9.2" text-anchor="end" fill="#000" stroke="#000" stroke-width="0.25" >0.25</text>
<text x="280.4" y="261.78" font-size="9.2" text-anchor="end" fill="#000" stroke="#000" stroke-width="0.25" >0.30</text>
<text x="280.4" y="243.11" font-size="9.2" text-anchor="end" fill="#000" stroke="#000" stroke-width="0.25" >0.35</text>
<text x="304.6" y="387.2" font-size="9.6" text-anchor="middle" fill="#000" stroke="#000" stroke-width="0.25" >-4</text>
<text x="344.7" y="387.2" font-size="9.6" text-anchor="middle" fill="#000" stroke="#000" stroke-width="0.25" >-2</text>
<text x="383.6" y="387.2" font-size="9.6" text-anchor="middle" fill="#000" stroke="#000" stroke-width="0.25" >0</text>
<text x="420.5" y="387.2" font-size="9.6" text-anchor="middle" fill="#000" stroke="#000" stroke-width="0.25" >2</text>
<text x="457.6" y="387.2" font-size="9.6" text-anchor="middle" fill="#000" stroke="#000" stroke-width="0.25" >4</text>
<text x="381.7" y="400.4" font-size="12" text-anchor="middle" fill="#000" stroke="#000" stroke-width="0.25" >Nearest neighbor distance</text>
<text x="0" y="0" font-size="12.3" text-anchor="middle" fill="#000" stroke="#000" stroke-width="0.25" transform="translate(256.6,299) rotate(-90)">Probability</text>
<path d="M287,370 C289.58,369.92 298.23,369.95 302.5,369.5 C306.77,369.05 309.23,368.28 312.6,367.3 C315.97,366.32 319.32,364.9 322.7,363.6 C326.08,362.3 329.5,361.1 332.9,359.5 C336.3,357.9 339.75,357.92 343.1,354 C346.45,350.08 350.52,342 353,336 C355.48,330 356.32,325.5 358,318 C359.68,310.5 361.43,299.33 363.1,291 C364.77,282.67 366.68,274.17 368,268 C369.32,261.83 370.12,257.23 371,254 C371.88,250.77 372.55,248.93 373.3,248.6 C374.05,248.27 374.72,247.6 375.5,252 C376.28,256.4 377.03,264.83 378,275 C378.97,285.17 380.3,305.17 381.3,313 C382.3,320.83 382.88,319.33 384,322 C385.12,324.67 386.47,326.67 388,329 C389.53,331.33 391.7,333.92 393.2,336 C394.7,338.08 395.25,339.25 397,341.5 C398.75,343.75 400.9,346.92 403.7,349.5 C406.5,352.08 410.47,354.83 413.8,357 C417.13,359.17 420.35,361.25 423.7,362.5 C427.05,363.75 430.48,363.5 433.9,364.5 C437.32,365.5 440.8,367.62 444.2,368.5 C447.6,369.38 450.9,369.52 454.3,369.8 C457.7,370.08 460.98,370.12 464.6,370.2 C468.22,370.28 474.1,370.28 476,370.3" fill="none" stroke="#2a2a2a" stroke-width="1.5"/>
<path d="M287,370 C289.58,369.97 298.23,370.13 302.5,369.8 C306.77,369.47 309.23,368.8 312.6,368 C315.97,367.2 319.32,366.08 322.7,365 C326.08,363.92 329.5,363 332.9,361.5 C336.3,360 339.83,361.25 343.1,356 C346.37,350.75 350.18,337.33 352.5,330 C354.82,322.67 355.35,319 357,312 C358.65,305 360.73,295.67 362.4,288 C364.07,280.33 365.57,272.17 367,266 C368.43,259.83 369.95,253.9 371,251 C372.05,248.1 372.47,248.43 373.3,248.6 C374.13,248.77 374.88,248.68 376,252 C377.12,255.32 378.68,260.57 380,268.5 C381.32,276.43 382.57,290.52 383.9,299.6 C385.23,308.68 386.48,316.1 388,323 C389.52,329.9 391.33,336.33 393,341 C394.67,345.67 396.22,348.33 398,351 C399.78,353.67 401.07,354.9 403.7,357 C406.33,359.1 410.47,362.02 413.8,363.6 C417.13,365.18 420.35,365.88 423.7,366.5 C427.05,367.12 430.48,366.85 433.9,367.3 C437.32,367.75 440.8,368.83 444.2,369.2 C447.6,369.57 449,369.37 454.3,369.5 C459.6,369.63 472.38,369.92 476,370" fill="none" stroke="#ff1a1a" stroke-width="1.2"/>
<rect x="310.8" y="365.4" width="3.6" height="3.6" rx="0.6" fill="#ff1a1a"/>
<rect x="320.9" y="363.2" width="3.6" height="3.6" rx="0.6" fill="#ff1a1a"/>
<rect x="331.1" y="359.2" width="3.6" height="3.6" rx="0.6" fill="#ff1a1a"/>
<rect x="341.3" y="353" width="3.6" height="3.6" rx="0.6" fill="#ff1a1a"/>
<rect x="351.2" y="327.8" width="3.6" height="3.6" rx="0.6" fill="#ff1a1a"/>
<rect x="361.5" y="286.4" width="3.6" height="3.6" rx="0.6" fill="#ff1a1a"/>
<rect x="381.8" y="297.9" width="3.6" height="3.6" rx="0.6" fill="#ff1a1a"/>
<rect x="391.4" y="341.9" width="3.6" height="3.6" rx="0.6" fill="#ff1a1a"/>
<rect x="401.9" y="356.4" width="3.6" height="3.6" rx="0.6" fill="#ff1a1a"/>
<rect x="412" y="362.2" width="3.6" height="3.6" rx="0.6" fill="#ff1a1a"/>
<rect x="421.9" y="365" width="3.6" height="3.6" rx="0.6" fill="#ff1a1a"/>
<rect x="432.1" y="365.5" width="3.6" height="3.6" rx="0.6" fill="#ff1a1a"/>
<rect x="442.4" y="367.5" width="3.6" height="3.6" rx="0.6" fill="#ff1a1a"/>
<rect x="452.5" y="367.2" width="3.6" height="3.6" rx="0.6" fill="#ff1a1a"/>
<circle cx="288.4" cy="370.1" r="1.9" fill="#000"/>
<circle cx="302.5" cy="369.9" r="1.9" fill="#000"/>
<circle cx="312.6" cy="370.1" r="1.9" fill="#000"/>
<circle cx="322.7" cy="358" r="1.9" fill="#000"/>
<circle cx="332.9" cy="358.1" r="1.9" fill="#000"/>
<circle cx="343.1" cy="358.1" r="1.9" fill="#000"/>
<circle cx="353" cy="333.4" r="1.9" fill="#000"/>
<circle cx="363.3" cy="291.3" r="1.9" fill="#000"/>
<circle cx="373.3" cy="248.7" r="1.9" fill="#000"/>
<circle cx="383.6" cy="320.7" r="1.9" fill="#000"/>
<circle cx="393.2" cy="333.4" r="1.9" fill="#000"/>
<circle cx="403.7" cy="352" r="1.9" fill="#000"/>
<circle cx="413.8" cy="358.2" r="1.9" fill="#000"/>
<circle cx="423.7" cy="370.2" r="1.9" fill="#000"/>
<circle cx="433.9" cy="358.1" r="1.9" fill="#000"/>
<circle cx="444.2" cy="369.9" r="1.9" fill="#000"/>
<circle cx="454.3" cy="369.8" r="1.9" fill="#000"/>
<circle cx="464.6" cy="370.2" r="1.9" fill="#000"/>
<circle cx="474.7" cy="370.2" r="1.9" fill="#000"/>
<line x1="398.7" y1="257.6" x2="382.32" y2="266.88" stroke="#ff1a1a" stroke-width="1"/>
<path d="M378.4,269.1 L381.23,264.97 L383.4,268.8 Z" fill="#ff1a1a"/>
<line x1="402.6" y1="303.6" x2="388.39" y2="312.68" stroke="#222" stroke-width="1"/>
<path d="M384.6,315.1 L387.21,310.82 L389.58,314.53 Z" fill="#222"/>
<text x="399.7" y="256.9" font-size="11.8" text-anchor="start" fill="#ff1a1a" stroke="#ff1a1a" stroke-width="0.25" >Entire electrode</text>
<text x="404.5" y="305.5" font-size="12.5" text-anchor="start" fill="#000" stroke="#000" stroke-width="0.25" >RVE</text>
<path d="M525.5,230.1 H714.8 V373.3" fill="none" stroke="#8e8e8e" stroke-width="1.1"/>
<path d="M525.5,230.1 V373.3 H714.8" fill="none" stroke="#7a7a7a" stroke-width="1.1"/>
<text x="519.4" y="376.9" font-size="9.3" text-anchor="end" fill="#000" stroke="#000" stroke-width="0.25" >-4</text>
<text x="519.4" y="358.95" font-size="9.3" text-anchor="end" fill="#000" stroke="#000" stroke-width="0.25" >-3</text>
<text x="519.4" y="341" font-size="9.3" text-anchor="end" fill="#000" stroke="#000" stroke-width="0.25" >-2</text>
<text x="519.4" y="323.05" font-size="9.3" text-anchor="end" fill="#000" stroke="#000" stroke-width="0.25" >-1</text>
<text x="519.4" y="305.1" font-size="9.3" text-anchor="end" fill="#000" stroke="#000" stroke-width="0.25" >0</text>
<text x="519.4" y="287.15" font-size="9.3" text-anchor="end" fill="#000" stroke="#000" stroke-width="0.25" >1</text>
<text x="519.4" y="269.2" font-size="9.3" text-anchor="end" fill="#000" stroke="#000" stroke-width="0.25" >2</text>
<text x="519.4" y="251.25" font-size="9.3" text-anchor="end" fill="#000" stroke="#000" stroke-width="0.25" >3</text>
<text x="519.4" y="233.3" font-size="9.3" text-anchor="end" fill="#000" stroke="#000" stroke-width="0.25" >4</text>
<g stroke="#7a7a7a" stroke-width="0.9"><line x1="525.5" y1="373.7" x2="528.5" y2="373.7"/><line x1="525.5" y1="364.72" x2="527.3" y2="364.72"/><line x1="525.5" y1="355.75" x2="528.5" y2="355.75"/><line x1="525.5" y1="346.77" x2="527.3" y2="346.77"/><line x1="525.5" y1="337.8" x2="528.5" y2="337.8"/><line x1="525.5" y1="328.82" x2="527.3" y2="328.82"/><line x1="525.5" y1="319.85" x2="528.5" y2="319.85"/><line x1="525.5" y1="310.88" x2="527.3" y2="310.88"/><line x1="525.5" y1="301.9" x2="528.5" y2="301.9"/><line x1="525.5" y1="292.92" x2="527.3" y2="292.92"/><line x1="525.5" y1="283.95" x2="528.5" y2="283.95"/><line x1="525.5" y1="274.97" x2="527.3" y2="274.97"/><line x1="525.5" y1="266" x2="528.5" y2="266"/><line x1="525.5" y1="257.02" x2="527.3" y2="257.02"/><line x1="525.5" y1="248.05" x2="528.5" y2="248.05"/><line x1="525.5" y1="239.07" x2="527.3" y2="239.07"/><line x1="525.5" y1="230.1" x2="528.5" y2="230.1"/><line x1="541.2" y1="373.3" x2="541.2" y2="370.3"/><line x1="572.9" y1="373.3" x2="572.9" y2="370.3"/><line x1="603.9" y1="373.3" x2="603.9" y2="370.3"/><line x1="636.5" y1="373.3" x2="636.5" y2="370.3"/><line x1="667.6" y1="373.3" x2="667.6" y2="370.3"/><line x1="698.2" y1="373.3" x2="698.2" y2="370.3"/></g>
<text x="0" y="0" font-size="11.7" text-anchor="middle" fill="#000" stroke="#000" stroke-width="0.25" transform="translate(502.8,301) rotate(-90)">Distance</text>
<line x1="541.2" y1="304.23" x2="541.2" y2="356.11" stroke="#444" stroke-width="0.9" stroke-dasharray="1.3,1.3"/>
<line x1="537.2" y1="304.23" x2="545.2" y2="304.23" stroke="#444" stroke-width="0.9" stroke-dasharray="1.5,0.6"/>
<line x1="537.2" y1="356.11" x2="545.2" y2="356.11" stroke="#444" stroke-width="0.9" stroke-dasharray="1.5,0.6"/>
<circle cx="541.2" cy="325.06" r="2.6" fill="#000"/>
<line x1="572.9" y1="288.8" x2="572.9" y2="357.9" stroke="#f04848" stroke-width="0.9" stroke-dasharray="1.3,1.3"/>
<line x1="568.9" y1="288.8" x2="576.9" y2="288.8" stroke="#f04848" stroke-width="0.9" stroke-dasharray="1.5,0.6"/>
<line x1="568.9" y1="357.9" x2="576.9" y2="357.9" stroke="#f04848" stroke-width="0.9" stroke-dasharray="1.5,0.6"/>
<rect x="570.4" y="321.12" width="5" height="5" fill="#ff1010"/>
<line x1="603.9" y1="288.44" x2="603.9" y2="332.95" stroke="#444" stroke-width="0.9" stroke-dasharray="1.3,1.3"/>
<line x1="599.9" y1="288.44" x2="607.9" y2="288.44" stroke="#444" stroke-width="0.9" stroke-dasharray="1.5,0.6"/>
<line x1="599.9" y1="332.95" x2="607.9" y2="332.95" stroke="#444" stroke-width="0.9" stroke-dasharray="1.5,0.6"/>
<circle cx="603.9" cy="309.08" r="2.6" fill="#000"/>
<line x1="636.5" y1="280.72" x2="636.5" y2="336.54" stroke="#f04848" stroke-width="0.9" stroke-dasharray="1.3,1.3"/>
<line x1="632.5" y1="280.72" x2="640.5" y2="280.72" stroke="#f04848" stroke-width="0.9" stroke-dasharray="1.5,0.6"/>
<line x1="632.5" y1="336.54" x2="640.5" y2="336.54" stroke="#f04848" stroke-width="0.9" stroke-dasharray="1.5,0.6"/>
<rect x="634" y="307.66" width="5" height="5" fill="#ff1010"/>
<line x1="667.6" y1="249.49" x2="667.6" y2="325.23" stroke="#444" stroke-width="0.9" stroke-dasharray="1.3,1.3"/>
<line x1="663.6" y1="249.49" x2="671.6" y2="249.49" stroke="#444" stroke-width="0.9" stroke-dasharray="1.5,0.6"/>
<line x1="663.6" y1="325.23" x2="671.6" y2="325.23" stroke="#444" stroke-width="0.9" stroke-dasharray="1.5,0.6"/>
<circle cx="667.6" cy="294.54" r="2.6" fill="#000"/>
<line x1="698.2" y1="273.36" x2="698.2" y2="332.77" stroke="#f04848" stroke-width="0.9" stroke-dasharray="1.3,1.3"/>
<line x1="694.2" y1="273.36" x2="702.2" y2="273.36" stroke="#f04848" stroke-width="0.9" stroke-dasharray="1.5,0.6"/>
<line x1="694.2" y1="332.77" x2="702.2" y2="332.77" stroke="#f04848" stroke-width="0.9" stroke-dasharray="1.5,0.6"/>
<rect x="695.7" y="297.96" width="5" height="5" fill="#ff1010"/>
<circle cx="540.6" cy="244" r="3.1" fill="#000"/>
<rect x="537.1" y="258.8" width="6.2" height="6.2" fill="#ff1010"/>
<text x="552.3" y="248.3" font-size="12.5" text-anchor="start" fill="#000" stroke="#000" stroke-width="0.25" >RVE</text>
<text x="552.3" y="266.5" font-size="12" text-anchor="start" fill="#ff1a1a" stroke="#ff1a1a" stroke-width="0.25" >Entire electrode</text>
<text x="523.1" y="398.8" font-size="12">1<tspan font-size="7" dy="-4.2">st</tspan><tspan dy="4.2"> neighbor</tspan></text>
<text x="595.5" y="398.8" font-size="12">2<tspan font-size="7" dy="-4.2">nd</tspan><tspan dy="4.2"> neighbor</tspan></text>
<text x="665.6" y="398.8" font-size="12">3<tspan font-size="7" dy="-4.2">rd</tspan><tspan dy="4.2"> neighbor</tspan></text>
</svg></body></html>
